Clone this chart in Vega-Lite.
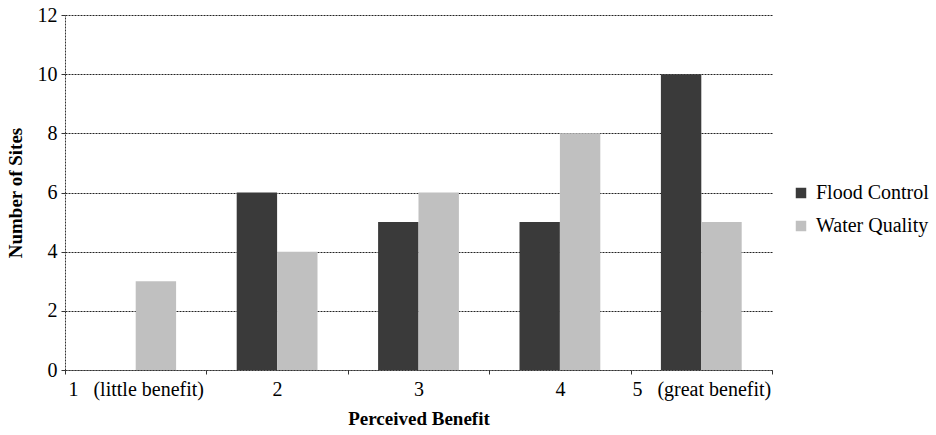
{
  "$schema": "https://vega.github.io/schema/vega-lite/v6.json",
  "width": 707,
  "height": 355,
  "autosize": {"type": "none"},
  "padding": {"left": 65, "top": 15, "right": 164, "bottom": 65},
  "background": "white",
  "config": {
    "font": "Liberation Serif, Times New Roman, serif",
    "view": {"stroke": null}
  },
  "data": {
    "values": [
      {"benefit": "1\u00a0\u00a0\u00a0(little benefit)", "series": "Flood Control", "sites": 0},
      {"benefit": "1\u00a0\u00a0\u00a0(little benefit)", "series": "Water Quality", "sites": 3},
      {"benefit": "2", "series": "Flood Control", "sites": 6},
      {"benefit": "2", "series": "Water Quality", "sites": 4},
      {"benefit": "3", "series": "Flood Control", "sites": 5},
      {"benefit": "3", "series": "Water Quality", "sites": 6},
      {"benefit": "4", "series": "Flood Control", "sites": 5},
      {"benefit": "4", "series": "Water Quality", "sites": 8},
      {"benefit": "5\u00a0\u00a0\u00a0(great benefit)", "series": "Flood Control", "sites": 10},
      {"benefit": "5\u00a0\u00a0\u00a0(great benefit)", "series": "Water Quality", "sites": 5}
    ]
  },
  "mark": {"type": "bar"},
  "encoding": {
    "x": {
      "field": "benefit",
      "type": "nominal",
      "sort": null,
      "scale": {"paddingInner": 0, "paddingOuter": 0},
      "axis": {
        "title": "Perceived Benefit",
        "titleFont": "Liberation Serif, Times New Roman, serif",
        "titleFontSize": 19,
        "titleFontWeight": "bold",
        "titleColor": "black",
        "titlePadding": 10,
        "labelAngle": 0,
        "labelFont": "Liberation Serif, Times New Roman, serif",
        "labelFontSize": 20,
        "labelColor": "black",
        "labelPadding": 5,
        "tickBand": "extent",
        "tickSize": 4,
        "tickColor": "#333",
        "domainColor": "#333",
        "domainDash": [2, 1],
        "grid": false
      }
    },
    "xOffset": {
      "field": "series",
      "type": "nominal",
      "scale": {"paddingInner": 0, "paddingOuter": 0.75}
    },
    "y": {
      "field": "sites",
      "type": "quantitative",
      "scale": {"domain": [0, 12], "nice": false},
      "axis": {
        "title": "Number of Sites",
        "titleFont": "Liberation Serif, Times New Roman, serif",
        "titleFontSize": 19,
        "titleFontWeight": "bold",
        "titleColor": "black",
        "titlePadding": 12,
        "values": [0, 2, 4, 6, 8, 10, 12],
        "labelFont": "Liberation Serif, Times New Roman, serif",
        "labelFontSize": 20,
        "labelColor": "black",
        "labelPadding": 4,
        "tickSize": 4,
        "tickColor": "#333",
        "domainColor": "#333",
        "domainDash": [2, 1],
        "grid": true,
        "gridColor": "#222",
        "gridDash": [2, 1],
        "gridWidth": 1
      }
    },
    "color": {
      "field": "series",
      "type": "nominal",
      "scale": {"domain": ["Flood Control", "Water Quality"], "range": ["#3a3a3a", "#c0c0c0"]},
      "legend": {
        "title": null,
        "orient": "none",
        "legendX": 726,
        "legendY": 168,
        "symbolType": "square",
        "symbolSize": 110,
        "symbolStrokeWidth": 0,
        "labelFont": "Liberation Serif, Times New Roman, serif",
        "labelFontSize": 20,
        "labelColor": "black",
        "labelOffset": 5,
        "rowPadding": 13
      }
    }
  }
}
